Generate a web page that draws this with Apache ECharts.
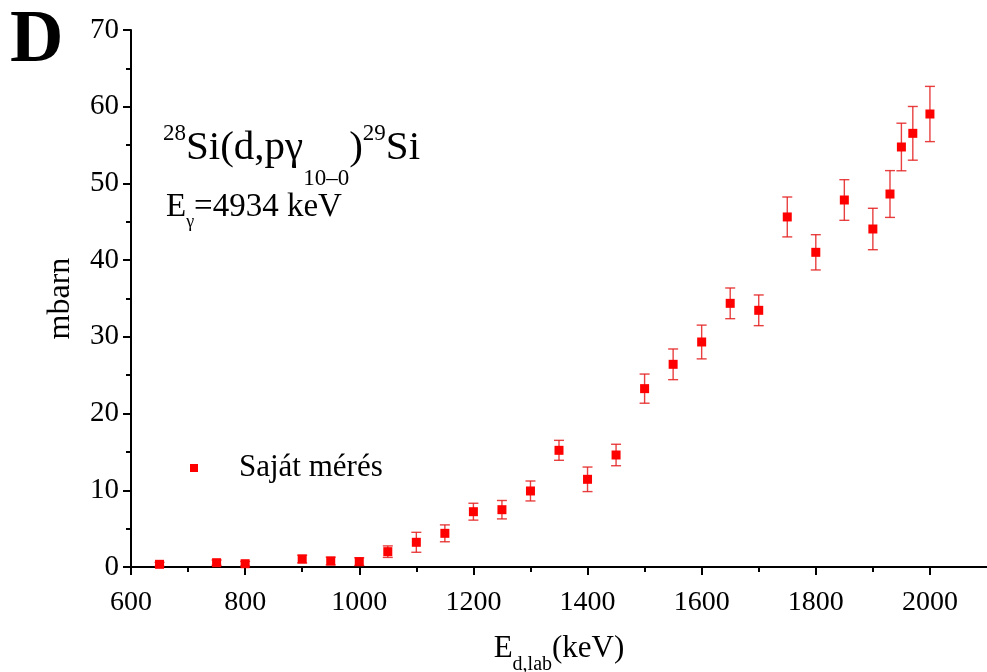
<!DOCTYPE html>
<html>
<head>
<meta charset="utf-8">
<script src="https://cdn.jsdelivr.net/npm/echarts@6/dist/echarts.min.js"></script>
<style>
  html, body { margin: 0; padding: 0; background: #fff; }
  #chart { width: 987px; height: 672px; }
</style>
</head>
<body>
<div id="chart"></div>
<script>
// Deuteron lab energy (keV)
const energies = [650, 750, 800, 900, 950, 1000, 1050, 1100, 1150, 1200, 1250, 1300, 1350, 1400,
  1450, 1500, 1550, 1600, 1650, 1700, 1750, 1800, 1850, 1900, 1930, 1950, 1970, 2000];
// Cross section (mbarn)
const crossSection = [0.35, 0.56, 0.43, 1.04, 0.78, 0.70, 2.0, 3.22, 4.39, 7.21, 7.47, 9.91, 15.21, 11.43,
  14.6, 23.25, 26.42, 29.33, 34.37, 33.46, 45.63, 41.02, 47.84, 44.06, 48.62, 54.75, 56.53, 59.05];
// Uncertainty (mbarn)
const uncertainty = [0.25, 0.35, 0.3, 0.5, 0.5, 0.5, 0.75, 1.3, 1.1, 1.1, 1.2, 1.3, 1.3, 1.6,
  1.4, 1.9, 2.0, 2.2, 2.0, 2.0, 2.6, 2.3, 2.65, 2.7, 3.05, 3.1, 3.5, 3.6];
// Energy axis tick positions (keV)
const xMajorTicks = [600, 800, 1000, 1200, 1400, 1600, 1800, 2000];
const xMinorTicks = [700, 900, 1100, 1300, 1500, 1700, 1900];
const seriesName = 'Saját mérés';

const SERIF = '"Liberation Serif", "Times New Roman", serif';
const RED = '#ff0000';
const BAR = 'rgba(228, 30, 30, 0.85)';

const points = energies.map((e, i) => [e, crossSection[i]]);
const bars = energies.map((e, i) => [e, crossSection[i] - uncertainty[i], crossSection[i] + uncertainty[i]]);

const chart = echarts.init(document.getElementById('chart'), null, { renderer: 'canvas' });

const tickLine = { color: '#000', width: 2 };

chart.setOption({
  animation: false,
  backgroundColor: '#fff',
  grid: { left: 131, right: 0, top: 30, bottom: 105, containLabel: false, outerBoundsMode: 'none' },
  legend: {
    data: [{ name: seriesName, icon: 'rect' }],
    left: 190,
    top: 452,
    padding: 0,
    itemWidth: 8,
    itemHeight: 8,
    itemStyle: { opacity: 1 },
    textStyle: { fontFamily: SERIF, fontSize: 31, color: '#000', lineHeight: 32, padding: [0, 0, 0, 36] }
  },
  xAxis: [
    {
      type: 'value',
      min: 600,
      max: 2100,
      interval: 100,
      name: '{m|E}{s|d,lab}{m|(keV)}',
      nameLocation: 'middle',
      nameGap: 60,
      nameTextStyle: {
        rich: {
          m: { fontFamily: SERIF, fontSize: 31, color: '#000', lineHeight: 34 },
          s: { fontFamily: SERIF, fontSize: 20, color: '#000', lineHeight: 20, padding: [33, 0, 0, 0] }
        }
      },
      axisLine: { onZero: false, lineStyle: { color: '#000', width: 2 } },
      axisTick: { inside: false, length: 8, lineStyle: tickLine, customValues: xMajorTicks },
      minorTick: { show: false },
      splitLine: { show: false },
      axisLabel: {
        fontFamily: SERIF, fontSize: 28, color: '#000', margin: 22,
        customValues: xMajorTicks,
        formatter: function (v) { return String(v); }
      }
    },
    {
      // minor ticks only, sharing the same scale
      type: 'value',
      gridIndex: 0,
      position: 'bottom',
      min: 600,
      max: 2100,
      interval: 100,
      axisLine: { show: false, onZero: false },
      axisTick: { inside: false, length: 5, lineStyle: tickLine, customValues: xMinorTicks },
      axisLabel: { show: false },
      splitLine: { show: false }
    }
  ],
  yAxis: {
    type: 'value',
    min: 0,
    max: 70,
    interval: 10,
    name: 'mbarn',
    nameLocation: 'middle',
    nameRotate: 90,
    nameGap: 54,
    nameTextStyle: { fontFamily: SERIF, fontSize: 32, color: '#000' },
    axisLine: { onZero: false, lineStyle: { color: '#000', width: 2 } },
    axisTick: { inside: false, length: 8, lineStyle: tickLine },
    minorTick: { show: true, splitNumber: 2, length: 5, lineStyle: tickLine },
    splitLine: { show: false },
    minorSplitLine: { show: false },
    axisLabel: { fontFamily: SERIF, fontSize: 29, color: '#000', margin: 12 }
  },
  graphic: [
    {
      type: 'text', x: 10, y: 42, silent: true,
      style: { text: 'D', font: 'bold 74px ' + SERIF, fill: '#000', verticalAlign: 'middle', align: 'left' }
    },
    {
      type: 'text', x: 163, y: 126, silent: true,
      style: {
        text: '{p|28}{m|Si(d,pγ}{b|10–0}{m|)}{p|29}{m|Si}',
        verticalAlign: 'top',
        align: 'left',
        rich: {
          m: { fontFamily: SERIF, fontSize: 41, fill: '#000', lineHeight: 44 },
          p: { fontFamily: SERIF, fontSize: 23, fill: '#000', lineHeight: 22, padding: [0, 0, 29, 0] },
          b: { fontFamily: SERIF, fontSize: 23, fill: '#000', lineHeight: 22, padding: [61, 0, 0, 0] }
        }
      }
    },
    {
      type: 'text', x: 166, y: 189, silent: true,
      style: {
        text: '{m|E}{s|γ}{m|=4934 keV}',
        verticalAlign: 'top',
        align: 'left',
        rich: {
          m: { fontFamily: SERIF, fontSize: 33, fill: '#000', lineHeight: 36 },
          s: { fontFamily: SERIF, fontSize: 18, fill: '#000', lineHeight: 18, padding: [30, 0, 0, 0] }
        }
      }
    }
  ],
  series: [
    {
      name: 'errorbars',
      type: 'custom',
      silent: true,
      z: 1,
      encode: { x: 0, y: [1, 2] },
      data: bars,
      renderItem: function (params, api) {
        const x = api.value(0);
        const lo = api.coord([x, api.value(1)]);
        const hi = api.coord([x, api.value(2)]);
        const hw = 5;
        const st = { stroke: BAR, lineWidth: 1.4 };
        return {
          type: 'group',
          children: [
            { type: 'line', shape: { x1: lo[0], y1: lo[1], x2: hi[0], y2: hi[1] }, style: st },
            { type: 'line', shape: { x1: lo[0] - hw, y1: lo[1], x2: lo[0] + hw, y2: lo[1] }, style: st },
            { type: 'line', shape: { x1: hi[0] - hw, y1: hi[1], x2: hi[0] + hw, y2: hi[1] }, style: st }
          ]
        };
      }
    },
    {
      name: seriesName,
      type: 'scatter',
      z: 2,
      symbol: 'rect',
      symbolSize: 9,
      itemStyle: { color: RED, opacity: 1 },
      data: points
    }
  ]
});
</script>
</body>
</html>
